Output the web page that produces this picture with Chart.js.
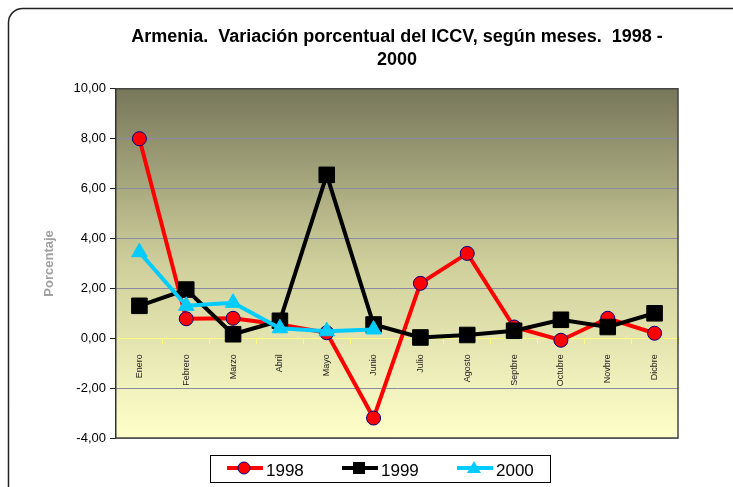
<!DOCTYPE html>
<html>
<head>
<meta charset="utf-8">
<script src="https://cdn.jsdelivr.net/npm/chart.js@4"></script>
<style>
  html, body { margin: 0; padding: 0; background: #fff; }
  #wrap { width: 733px; height: 487px; }
</style>
</head>
<body>
<div id="wrap"><canvas id="iccvChart" width="733" height="487"></canvas></div>
<script>
// Chart data
const months = ['Enero', 'Febrero', 'Marzo', 'Abril', 'Mayo', 'Junio', 'Julio', 'Agosto', 'Septbre', 'Octubre', 'Novbre', 'Dicbre'];
const serie1998 = [8.0, 0.78, 0.8, 0.55, 0.22, -3.2, 2.2, 3.4, 0.45, -0.08, 0.8, 0.2];
const serie1999 = [1.3, 1.95, 0.16, 0.7, 6.55, 0.55, 0.03, 0.13, 0.3, 0.74, 0.45, 1.0];
const serie2000 = [3.45, 1.3, 1.42, 0.4, 0.28, 0.35, null, null, null, null, null, null];
const yTicks = [-4, -2, 0, 2, 4, 6, 8, 10];

const FONT = "'Liberation Sans', Arial, sans-serif";

const legendItems = [
    { label: '1998', color: '#ff0000', marker: 'circle', x: 227 },
    { label: '1999', color: '#000000', marker: 'rect', x: 342 },
    { label: '2000', color: '#00ccff', marker: 'triangle', x: 457 }
];

function drawMarker(ctx, type, x, y, color) {
    ctx.save();
    ctx.beginPath();
    if (type === 'circle') {
        ctx.arc(x, y, 6, 0, Math.PI * 2);
        ctx.fillStyle = color;
        ctx.fill();
        ctx.lineWidth = 1;
        ctx.strokeStyle = '#000080';
        ctx.stroke();
    } else if (type === 'rect') {
        ctx.fillStyle = color;
        ctx.fillRect(x - 6, y - 6, 12, 12);
    } else {
        ctx.moveTo(x, y - 7);
        ctx.lineTo(x + 7, y + 5);
        ctx.lineTo(x - 7, y + 5);
        ctx.closePath();
        ctx.fillStyle = color;
        ctx.fill();
    }
    ctx.restore();
}

// background, frame and legend
const decorPlugin = {
    id: 'decor',
    beforeDraw(chart) {
        const { ctx, chartArea: a } = chart;
        ctx.save();
        ctx.fillStyle = '#fff';
        ctx.fillRect(0, 0, chart.width, chart.height);
        // outer rounded frame
        ctx.beginPath();
        ctx.roundRect(8.5, 8.5, 780, 520, 14);
        ctx.lineWidth = 1.5;
        ctx.strokeStyle = '#222';
        ctx.stroke();
        // plot area gradient
        const g = ctx.createLinearGradient(0, a.top, 0, a.bottom);
        g.addColorStop(0, '#77775a');
        g.addColorStop(0.5, '#cfcf9c');
        g.addColorStop(1, '#ffffca');
        ctx.fillStyle = g;
        ctx.fillRect(a.left, a.top, a.right - a.left, a.bottom - a.top);
        ctx.restore();
    },
    afterDraw(chart) {
        const { ctx, chartArea: a } = chart;
        ctx.save();
        // plot frame top/right
        ctx.strokeStyle = '#444';
        ctx.lineWidth = 1.5;
        ctx.beginPath();
        ctx.moveTo(a.left, a.top);
        ctx.lineTo(a.right, a.top);
        ctx.lineTo(a.right, a.bottom);
        ctx.lineTo(a.left, a.bottom);
        ctx.stroke();

        // legend box
        ctx.fillStyle = '#fff';
        ctx.fillRect(210, 455, 340, 27);
        ctx.strokeStyle = '#000';
        ctx.lineWidth = 1;
        ctx.strokeRect(210.5, 455.5, 340, 27);
        const ly = 468;
        legendItems.forEach(item => {
            ctx.strokeStyle = item.color;
            ctx.lineWidth = 4;
            ctx.beginPath();
            ctx.moveTo(item.x, ly);
            ctx.lineTo(item.x + 36, ly);
            ctx.stroke();
            drawMarker(ctx, item.marker, item.x + 17, ly, item.color);
            ctx.fillStyle = '#000';
            ctx.font = '17px ' + FONT;
            ctx.textBaseline = 'middle';
            ctx.textAlign = 'left';
            ctx.fillText(item.label, item.x + 39, ly + 3);
        });
        ctx.restore();
    }
};

const ctx = document.getElementById('iccvChart').getContext('2d');
const iccvChart = new Chart(ctx, {
    type: 'line',
    data: {
        labels: months,
        datasets: [{
            label: '1998',
            data: serie1998,
            borderColor: '#ff0000',
            backgroundColor: '#ff0000',
            borderWidth: 4,
            pointStyle: 'circle',
            pointRadius: 7,
            pointBorderColor: '#000080',
            pointBorderWidth: 1,
            pointBackgroundColor: '#ff0000',
            order: 3
        }, {
            label: '1999',
            data: serie1999,
            borderColor: '#000000',
            backgroundColor: '#000000',
            borderWidth: 4,
            pointStyle: 'rect',
            pointRadius: 11,
            pointBorderWidth: 1,
            pointBorderColor: '#000000',
            pointBackgroundColor: '#000000',
            order: 2
        }, {
            label: '2000',
            data: serie2000,
            borderColor: '#00ccff',
            backgroundColor: '#00ccff',
            borderWidth: 4,
            pointStyle: 'triangle',
            pointRadius: 9,
            pointBorderWidth: 1,
            pointBorderColor: '#00ccff',
            pointBackgroundColor: '#00ccff',
            order: 1
        }]
    },
    options: {
        responsive: false,
        animation: false,
        layout: {
            padding: { left: 0, right: 55, top: 15, bottom: 49 }
        },
        elements: { line: { tension: 0 } },
        scales: {
            x: {
                type: 'category',
                position: { y: 0 },
                offset: true,
                grid: {
                    drawOnChartArea: false,
                    drawTicks: true,
                    tickLength: 5,
                    color: '#ffff80',
                    offset: true
                },
                border: { color: '#ffff80', width: 1 },
                ticks: {
                    autoSkip: false,
                    minRotation: 90,
                    maxRotation: 90,
                    padding: 11,
                    color: '#222',
                    font: { family: FONT, size: 9 }
                }
            },
            y: {
                min: -4,
                max: 10,
                afterBuildTicks(scale) {
                    scale.ticks = yTicks.map(v => ({ value: v }));
                },
                afterFit(scale) {
                    scale.width = 116;
                },
                grid: {
                    color: c => c.tick.value === 0 ? '#ffff80' : (c.tick.value === 10 ? 'rgba(0,0,0,0)' : '#8a8aa0'),
                    tickColor: '#222',
                    tickLength: 6,
                    lineWidth: 1
                },
                border: { color: '#333', width: 1.5 },
                ticks: {
                    padding: 4,
                    color: '#000',
                    font: { family: FONT, size: 13 },
                    callback: v => v.toFixed(2).replace('.', ',')
                },
                title: {
                    display: true,
                    text: 'Porcentaje',
                    color: '#a0a0a0',
                    padding: { top: 42, bottom: 0 },
                    font: { family: FONT, size: 13, weight: 'bold' }
                }
            }
        },
        plugins: {
            legend: { display: false },
            tooltip: { enabled: false },
            title: {
                display: true,
                fullSize: false,
                text: ['Armenia.  Variación porcentual del ICCV, según meses.  1998 -', '2000'],
                color: '#000',
                font: { family: FONT, size: 18, weight: 'bold', lineHeight: 1.3 },
                padding: { top: 10, bottom: 17 }
            }
        }
    },
    plugins: [decorPlugin]
});
</script>
</body>
</html>
